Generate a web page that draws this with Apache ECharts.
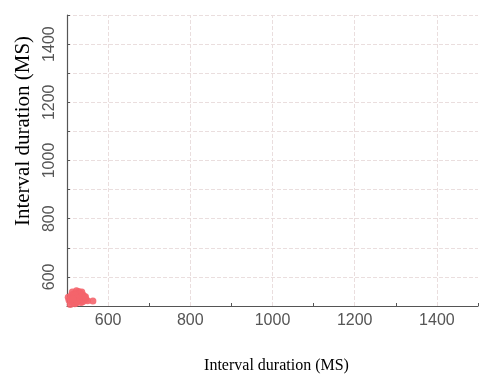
<!DOCTYPE html>
<html>
<head>
<meta charset="utf-8">
<script src="https://cdn.jsdelivr.net/npm/echarts@6/dist/echarts.min.js"></script>
<style>
html,body{margin:0;padding:0;background:#fff;}
#chart{width:502px;height:389px;}
</style>
</head>
<body>
<div id="chart"></div>
<script>
// interval pairs (ms)
var intervalX = [505, 510, 512, 515, 518, 520, 522, 525, 528, 530, 532, 535, 538, 540, 508, 513, 517, 523, 527, 533, 537, 543, 546, 550, 511, 519, 526, 529, 534, 541, 503, 516, 521, 531, 536, 524, 514, 539, 545, 563];
var intervalY = [520, 530, 512, 540, 525, 545, 510, 535, 550, 520, 540, 528, 515, 535, 505, 548, 532, 552, 518, 545, 525, 530, 522, 518, 538, 508, 528, 542, 512, 520, 530, 520, 538, 530, 548, 515, 525, 538, 532, 517];
var xTicks = [600, 800, 1000, 1200, 1400];
var yTicks = [600, 800, 1000, 1200, 1400];

var points = [];
for (var i = 0; i < intervalX.length; i++) {
    points.push([intervalX[i], intervalY[i]]);
}
// vertical grid only at the labelled x values
var xGrid = [];
for (var j = 0; j < xTicks.length; j++) {
    xGrid.push({xAxis: xTicks[j]});
}

var dom = document.getElementById("chart");
var myChart = echarts.init(dom);
option = {
    backgroundColor: '#fff',
    animation: false,
    grid: {
        left: 67,
        right: 24,
        top: 15,
        bottom: 83
    },
    xAxis: {
        type: 'value',
        min: 500,
        max: 1500,
        interval: 100,
        name: 'Interval duration (MS)',
        nameLocation: 'middle',
        nameGap: 52,
        nameTextStyle: {
            fontFamily: 'Liberation Serif',
            fontSize: 16,
            color: '#000',
            padding: [0, 0, 0, 8]
        },
        axisLine: {show: true, lineStyle: {color: '#555', width: 1.2}},
        axisTick: {show: true, inside: true, length: 3, lineStyle: {color: '#555'}},
        axisLabel: {
            fontFamily: 'Liberation Sans',
            fontSize: 16,
            color: '#555',
            margin: 7,
            formatter: function (v) { return xTicks.indexOf(v) >= 0 ? v : ''; }
        },
        splitLine: {show: false}
    },
    yAxis: {
        type: 'value',
        min: 500,
        max: 1500,
        interval: 100,
        name: 'Interval duration (MS)',
        nameLocation: 'middle',
        nameGap: 28,
        nameTextStyle: {
            fontFamily: 'Liberation Serif',
            fontSize: 21,
            color: '#000',
            padding: [0, 0, 0, 59]
        },
        axisLine: {show: true, lineStyle: {color: '#555', width: 1.2}},
        axisTick: {show: true, inside: true, length: 3, lineStyle: {color: '#555'}},
        axisLabel: {
            fontFamily: 'Liberation Sans',
            fontSize: 16,
            color: '#555',
            rotate: 90,
            margin: 9,
            formatter: function (v) { return yTicks.indexOf(v) >= 0 ? v : ''; }
        },
        splitLine: {
            show: true,
            lineStyle: {color: '#eadede', type: 'dashed', width: 1}
        }
    },
    series: [{
        type: 'scatter',
        data: points,
        symbolSize: 7,
        itemStyle: {color: '#f4646c', opacity: 0.9},
        markLine: {
            silent: true,
            symbol: 'none',
            label: {show: false},
            lineStyle: {color: '#eadede', type: 'dashed', width: 1},
            data: xGrid
        },
        z: 3
    }]
};
if (option && typeof option == "object") {
    myChart.setOption(option, true);
}
</script>
</body>
</html>
